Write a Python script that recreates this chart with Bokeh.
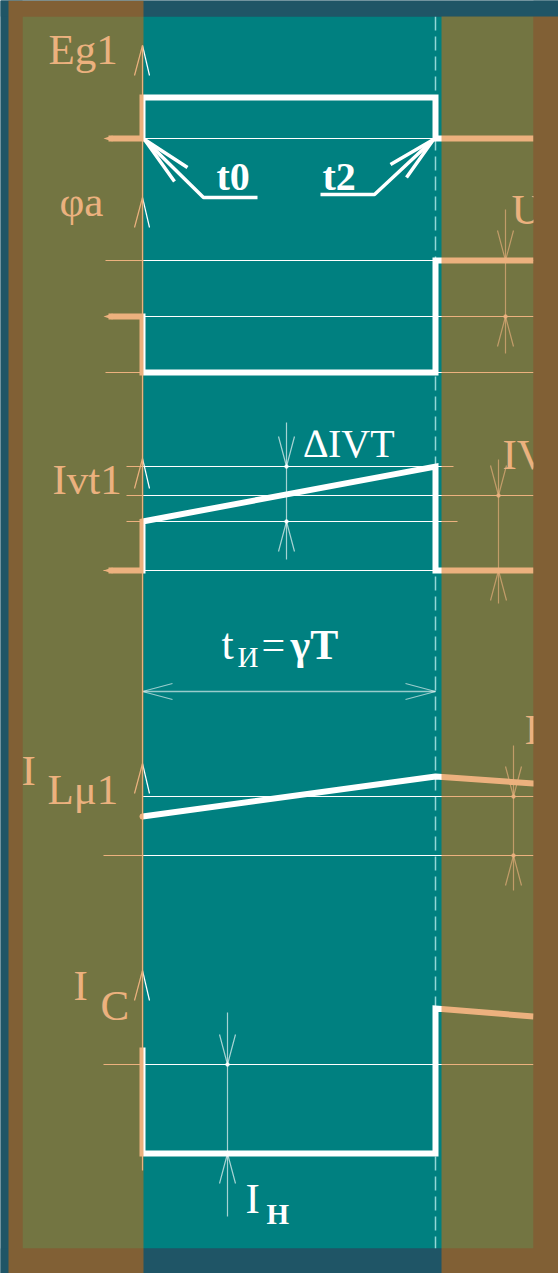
from bokeh.plotting import figure
from bokeh.models import Range1d
from bokeh.core.properties import value
from bokeh.embed import file_html
from bokeh.resources import INLINE

W, H = 558, 1273

# ---- colours -------------------------------------------------------------
BG = "#1f5566"        # page background
FIELD = "#008080"     # drawing field
INK = "#ffffff"       # drawing ink
SHADE = "#db6a09"     # translucent shading over the intervals outside the pulse
SHADE_ALPHA = 0.525
FONT = "Liberation Serif"
TEXT_RAISE = 14       # baseline correction for the serif labels
TRACE_W = 6

# ---- time marks (horizontal positions) ------------------------------------
T0, T2 = 142, 435          # pulse start / end
T_LEFT, T_RIGHT = 108, 533  # visible time window
FIELD_X = (22, 533)
FIELD_Y = (16, 1248)

# ---- waveforms (level axis grows downward) --------------------------------
eg1_t = [T_LEFT, T0, T0, T2, T2, T_RIGHT]
eg1_v = [138, 138, 97, 97, 138, 138]

phi_t = [T_LEFT, T0, T0, T2, T2, T_RIGHT]
phi_v = [316, 316, 372, 372, 260, 260]

ivt_t = [T_LEFT, T0, T0, T2, T2, T_RIGHT]
ivt_v = [570, 570, 521, 466, 570, 570]

ilm_t = [T0, T2, T_RIGHT]
ilm_v = [816, 776, 783]

ic_t = [T0, T0, T2, T2, T_RIGHT]
ic_v = [1047, 1153, 1153, 1008, 1016]

# ---- thin reference levels ------------------------------------------------
ref_y = [138, 260, 316, 372, 466, 495, 521, 570, 796, 855, 1064]
ref_x0 = [142, 105, 105, 105, 126, 126, 126, 103, 142, 103, 103]
ref_x1 = [435, 533, 533, 533, 453, 533, 457, 435, 533, 533, 533]

# ---- vertical axes: arrow tips on the common time origin -------------------
axis_tips = [45, 197, 458, 763, 970]
axis_bottom = 1170

# ---- dimension markers: x, upper level, lower level, extent -----------------
dim_x = [505, 498, 513, 286, 227]
dim_hi = [260, 495, 796, 466, 1064]
dim_lo = [316, 570, 855, 521, 1153]
dim_y0 = [209, 459, 745, 422, 1012]
dim_y1 = [353, 603, 890, 559, 1216]

# pulse-width dimension
pw_y = 691

p = figure(width=W, height=H, x_range=Range1d(0, W), y_range=Range1d(H, 0),
           min_border=0, toolbar_location=None, output_backend="svg",
           x_axis_location=None, y_axis_location=None,
           background_fill_color=BG, border_fill_color=BG,
           outline_line_color=None)
p.grid.visible = False

# drawing field
p.quad(left=[FIELD_X[0]], right=[FIELD_X[1]], bottom=[FIELD_Y[1]], top=[FIELD_Y[0]],
       fill_color=FIELD, line_color=None)

# pulse end marker
p.line([T2, T2], [FIELD_Y[0], FIELD_Y[1]], line_color="#b8ecec", line_alpha=0.8,
       line_width=1.5, line_dash="14 6")

# thin reference levels
p.segment(x0=ref_x0, y0=ref_y, x1=ref_x1, y1=ref_y, line_color=INK, line_width=1)

# vertical axis
p.line([T0, T0], [axis_tips[0], axis_bottom], line_color=INK, line_width=1.2)
for yt in axis_tips:
    p.multi_line([[T0 - 8, T0], [T0 + 7, T0]], [[yt + 30, yt], [yt + 30, yt]],
                 line_color=INK, line_width=1.2)

# waveforms
for xs, ys in [(eg1_t, eg1_v), (phi_t, phi_v), (ivt_t, ivt_v), (ic_t, ic_v)]:
    p.line(xs, ys, line_color=INK, line_width=TRACE_W, line_join="miter")
    # tapered start of the trace
    if xs[0] < T0:
        p.patch([xs[0] - 5, xs[0] + 4, xs[0] + 4], [ys[0], ys[0] - 3, ys[0] + 3],
                fill_color=INK, line_color=None)
p.line(ilm_t, ilm_v, line_color=INK, line_width=TRACE_W, line_cap="round")

# dimension markers with outside arrows
for x, a, b, y0, y1 in zip(dim_x, dim_hi, dim_lo, dim_y0, dim_y1):
    p.line([x, x], [y0, y1], line_color=INK, line_alpha=0.65, line_width=1.2)
    p.multi_line([[x - 8, x, x + 8], [x - 8, x, x + 8]],
                 [[a - 30, a, a - 30], [b + 30, b, b + 30]],
                 line_color=INK, line_alpha=0.65, line_width=1.2)
    p.scatter([x, x], [a, b], size=3.5, color=INK, alpha=0.9)

# pulse-width dimension
p.line([T0, T2], [pw_y, pw_y], line_color=INK, line_alpha=0.6, line_width=1.5)
p.multi_line([[T0 + 30, T0, T0 + 30], [T2 - 30, T2, T2 - 30]],
             [[pw_y - 8, pw_y, pw_y + 8], [pw_y - 8, pw_y, pw_y + 8]],
             line_color=INK, line_alpha=0.6, line_width=1.2)

# t0 / t2 leaders
p.line([T0 + 2, 203, 257], [139, 197, 197], line_color=INK, line_width=3.5)
p.multi_line([[174, T0 + 2, 187]], [[181, 139, 167]], line_color=INK, line_width=3.5)
p.line([T2 - 2, 374, 320], [139, 194, 194], line_color=INK, line_width=3.5)
p.multi_line([[390, T2 - 2, 406]], [[164, 139, 177]], line_color=INK, line_width=3.5)

# labels
def label(x, y, s, size, style="normal"):
    p.text(x=[x], y=[y - TEXT_RAISE], text=[s], text_font=value(FONT),
           text_font_size=f"{size}px", text_font_style=style, text_color=INK,
           text_baseline="alphabetic", text_align="left")

label(48, 63, "Eg1", 43)
label(59, 215, "φa", 43)
label(52, 493, "Ivt1", 43)
label(21, 784, "I", 43)
label(47, 803, "Lμ1", 43)
label(73, 999, "I", 43)
label(100, 1019, "C", 43)
label(245, 1212, "I", 43)
label(266, 1227, "Н", 29, "bold")
label(303, 457, "∆IVT", 40)
label(221, 658, "t", 44)
label(237, 670, "И", 29)
label(261, 658, "=", 42)
label(290, 658, "γT", 42, "bold")
label(216, 190, "t0", 40, "bold")
label(322, 190, "t2", 40, "bold")
label(511, 223, "U", 43)
label(502, 468, "IV", 43)
label(524, 743, "I", 43)

# everything outside the drawing field is cut off
p.quad(left=[FIELD_X[1], 0, 0, 0], right=[W, FIELD_X[0], W, W],
       top=[0, 0, 0, FIELD_Y[1]], bottom=[H, H, FIELD_Y[0], H],
       fill_color=BG, line_color=None)

# translucent shading outside the pulse interval
p.quad(left=[8, 441], right=[143, W], top=[0, FIELD_Y[0]], bottom=[H, H],
       fill_color=SHADE, fill_alpha=SHADE_ALPHA, line_color=None)

open("out.html", "w").write(file_html(p, INLINE))
